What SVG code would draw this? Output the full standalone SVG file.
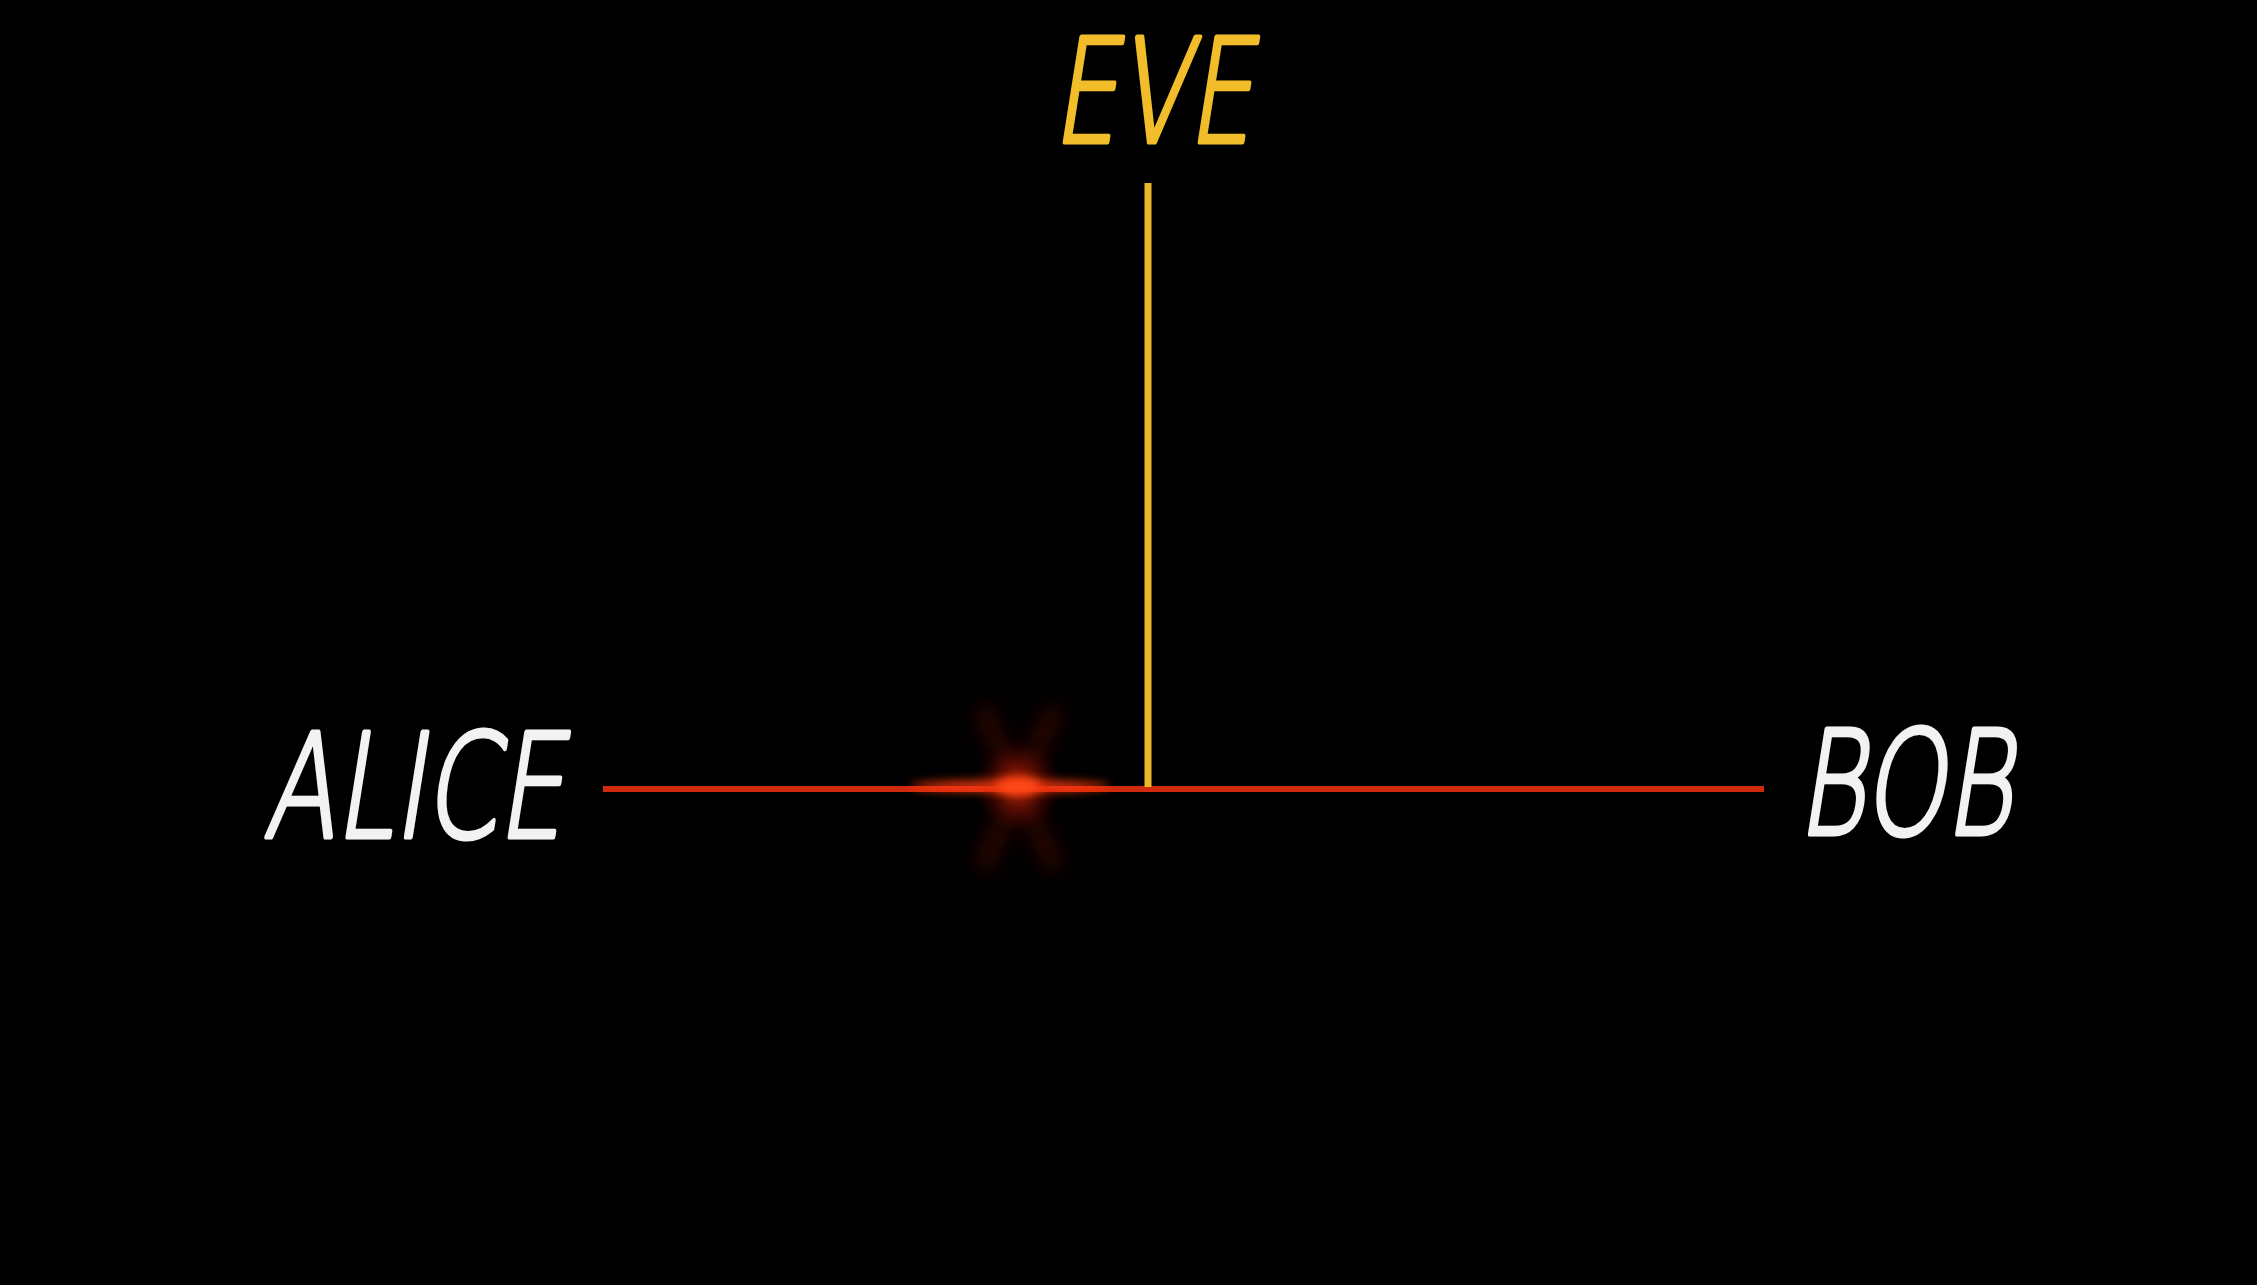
<svg xmlns="http://www.w3.org/2000/svg" width="2257" height="1285" viewBox="0 0 2257 1285">
<defs>
<style>
.lbl{font-family:"DejaVu Sans","Liberation Sans",sans-serif;font-weight:200;font-size:144px;stroke-width:5;stroke-linejoin:round;paint-order:stroke}
.white{fill:#f2f2f2;stroke:#f2f2f2}
.yellow{fill:#f2bd2a;stroke:#f2bd2a}
</style>
<filter id="glow" filterUnits="userSpaceOnUse" x="900" y="650" width="250" height="280"><feGaussianBlur stdDeviation="10"/></filter>
<filter id="glow2" filterUnits="userSpaceOnUse" x="850" y="740" width="350" height="100"><feGaussianBlur stdDeviation="5"/></filter>
<radialGradient id="core" cx="0.5" cy="0.5" r="0.5">
<stop offset="0" stop-color="#ff3a10" stop-opacity="1"/>
<stop offset="0.5" stop-color="#c01c08" stop-opacity="0.5"/>
<stop offset="1" stop-color="#600000" stop-opacity="0"/>
</radialGradient>
</defs>
<rect width="2257" height="1285" fill="#000"/>
<g id="connectors">
<line id="alice-bob" x1="603" y1="789" x2="1764" y2="789" stroke="#cf2a0e" stroke-width="6"/>
<line id="eve-tap" x1="1148" y1="183" x2="1148" y2="787" stroke="#e9b82a" stroke-width="7"/>
</g>
<g id="flare">
<g filter="url(#glow)" opacity="0.4">
<line x1="985" y1="715" x2="1052" y2="862" stroke="#6a0802" stroke-width="20" stroke-linecap="round"/>
<line x1="1052" y1="715" x2="985" y2="862" stroke="#6a0802" stroke-width="20" stroke-linecap="round"/>
</g>
<ellipse cx="1018" cy="786" rx="45" ry="45" fill="url(#core)" opacity="0.7"/>
<ellipse cx="1010" cy="786" rx="100" ry="6" fill="#ff3a10" filter="url(#glow2)" opacity="0.85"/>
<ellipse cx="1018" cy="786" rx="22" ry="8" fill="#ff4a18" filter="url(#glow2)"/>
</g>
<g id="alice">
<text class="lbl white" transform="translate(263,837) skewX(-9)" textLength="300" lengthAdjust="spacingAndGlyphs">ALICE</text>
</g>
<g id="eve">
<text class="lbl yellow" transform="translate(1052,142) skewX(-9)" textLength="200" lengthAdjust="spacingAndGlyphs">EVE</text>
</g>
<g id="bob">
<text class="lbl white" transform="translate(1797,834) skewX(-9)" textLength="215" lengthAdjust="spacingAndGlyphs">BOB</text>
</g>
</svg>
